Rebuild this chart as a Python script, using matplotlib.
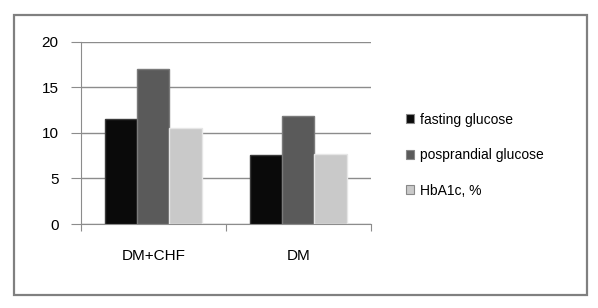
import matplotlib.pyplot as plt
import numpy as np
from matplotlib.patches import Rectangle, Patch

# Data
groups = ["DM+CHF", "DM"]
series_names = ["fasting glucose", "posprandial glucose", "HbA1c, %"]
fasting = [11.5, 7.6]
postprandial = [17.0, 11.9]
hba1c = [10.5, 7.7]
yticks = [0, 5, 10, 15, 20]

colors = ["#0a0a0a", "#5a5a5a", "#c9c9c9"]
edges = ["#3a3a3a", "#7a7a7a", "#e6e6e6"]

plt.rcParams['font.family'] = ['Liberation Sans', 'DejaVu Sans']

fig = plt.figure(figsize=(5.98, 3.08), dpi=100)
ax = fig.add_axes([0.135, 0.2727, 0.485, 0.592])

x = np.arange(len(groups))
width = 0.222
for i, vals in enumerate([fasting, postprandial, hba1c]):
    ax.bar(x + (i - 1) * width, vals, width, color=colors[i],
           edgecolor=edges[i], linewidth=1.0, label=series_names[i], zorder=3)

ax.set_xlim(-0.5, 1.5)
ax.set_ylim(0, 20)
ax.set_yticks(yticks)
ax.yaxis.grid(True, color="#8c8c8c", linewidth=1.0, zorder=0)
ax.set_axisbelow(True)

# category boundaries as x ticks, labels in the middle
ax.set_xticks([-0.5, 0.5, 1.5])
ax.set_xticklabels([])
ax.set_xticks(x, minor=True)
ax.set_xticklabels(groups, minor=True, fontsize=11)
ax.tick_params(axis="x", which="minor", length=0, pad=18)
ax.tick_params(axis="x", which="major", length=5, color="#8c8c8c", direction="out")
ax.tick_params(axis="y", length=7, color="#8c8c8c", labelsize=11, pad=9)

for s in ["top", "right"]:
    ax.spines[s].set_visible(False)
ax.spines["left"].set_color("#8c8c8c")
ax.spines["bottom"].set_color("#8c8c8c")

handles = [Patch(facecolor=colors[i], edgecolor="#888888", linewidth=0.8) for i in range(3)]
fig.legend(handles, series_names, loc="upper left", bbox_to_anchor=(0.658, 0.675),
           frameon=False, fontsize=10, handlelength=0.6, handleheight=0.6,
           handletextpad=0.4, labelspacing=1.55)

# outer border
fig.add_artist(Rectangle((14 / 598, 1 - 295 / 308), (587 - 14) / 598, (295 - 15) / 308,
                         transform=fig.transFigure, fill=False,
                         edgecolor="#808080", linewidth=1.6))

fig.savefig("out.png", dpi=100)
